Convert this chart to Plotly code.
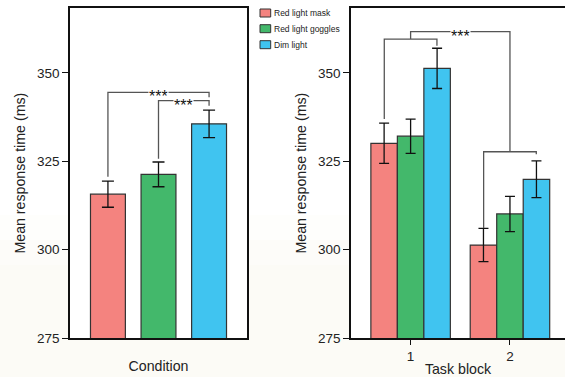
import plotly.graph_objects as go

# ---------------- data ----------------
conditions = ["Red light mask", "Red light goggles", "Dim light"]
colors = ["#F4837F", "#43B86B", "#40C4F0"]

cond_means = [315.7, 321.3, 335.6]
cond_err = [3.7, 3.5, 3.9]

blocks = [1, 2]
block_means = {
    "Red light mask": [330.1, 301.3],
    "Red light goggles": [332.1, 310.1],
    "Dim light": [351.3, 319.9],
}
block_err = {
    "Red light mask": [5.7, 4.7],
    "Red light goggles": [4.85, 5.0],
    "Dim light": [5.7, 5.2],
}
y_ticks = [275, 300, 325, 350]

W, H = 565, 377
def px(x):
    return x / W
def py(y):
    return 1 - y / H

fig = go.Figure()

# left panel
fig.add_trace(go.Bar(
    x=conditions, y=cond_means, width=0.69,
    marker=dict(color=colors, line=dict(color="#333333", width=1.2)),
    error_y=dict(type="data", array=cond_err, color="#111111", thickness=1.3, width=6),
    showlegend=False, xaxis="x", yaxis="y",
))

# right panel
for c, col in zip(conditions, colors):
    fig.add_trace(go.Bar(
        x=blocks, y=block_means[c], name=c,
        marker=dict(color=col, line=dict(color="#333333", width=1.2)),
        error_y=dict(type="data", array=block_err[c], color="#111111", thickness=1.3, width=5),
        showlegend=False, xaxis="x2", yaxis="y2",
    ))

font = "Liberation Sans, Arial, sans-serif"
yr = [275, 368.3]
ax_common = dict(showgrid=False, zeroline=False, linecolor="#111111", linewidth=1.5,
                 automargin=False,
                 tickfont=dict(family=font, size=13.5, color="#222222"),
                 title_font=dict(family=font, size=14.2, color="#222222"))

fig.update_layout(
    width=W, height=H, margin=dict(l=0, r=0, t=0, b=0),
    paper_bgcolor="white", plot_bgcolor="white",
    barmode="group", bargap=0.2, bargroupgap=0,
    xaxis=dict(domain=[px(70), px(247)], anchor="y", range=[-0.75, 2.75],
               showticklabels=False, ticks="", showline=True, mirror=True,
               title=dict(text="Condition", standoff=22), **ax_common),
    yaxis=dict(domain=[py(338), py(8.3)], anchor="x", range=yr, tickvals=y_ticks,
               ticks="outside", ticklen=6, tickwidth=1.3, tickcolor="#111111",
               showline=True, mirror=True,
               title=dict(text="Mean response time (ms)", standoff=8), **ax_common),
    xaxis2=dict(domain=[px(351), 1.0], anchor="y2", range=[0.4, 2.554],
                tickvals=blocks, ticks="outside", ticklen=5, tickwidth=1.3, tickcolor="#111111",
                showline=True, mirror=True,
                title=dict(text="Task block", standoff=1), **ax_common),
    yaxis2=dict(domain=[py(338), py(8.3)], anchor="x2", range=yr, tickvals=y_ticks,
                ticks="outside", ticklen=6, tickwidth=1.3, tickcolor="#111111",
                showline=True, mirror=False,
                title=dict(text="Mean response time (ms)", standoff=8), **ax_common),
)

shapes = []
# subtle cream background toward the bottom (outside plot areas)
for y0, y1, c in [(0, py(265), "#fcfbf6"), (py(265), py(240), "#fdfcf9"), (py(240), py(215), "#fefefc")]:
    shapes.append(dict(type="rect", xref="paper", yref="paper", x0=0, x1=1, y0=y0, y1=y1,
                       fillcolor=c, line=dict(width=0), layer="below"))
for x0, x1 in [(px(70), px(247)), (px(351), 1.0)]:
    shapes.append(dict(type="rect", xref="paper", yref="paper", x0=x0, x1=x1,
                       y0=py(338), y1=py(8.3), fillcolor="white", line=dict(width=0), layer="below"))

br = dict(color="#555555", width=1.3)
def path(xr, yr_, pts):
    d = "M" + " L".join(f"{x},{y}" for x, y in pts)
    return dict(type="path", xref=xr, yref=yr_, path=d, line=br)

# left panel brackets
shapes.append(path("x", "y", [(0, 320.6), (0, 344.5), (2, 344.5), (2, 343.1)]))
shapes.append(path("x", "y", [(1, 325.7), (1, 342.2), (2, 342.2), (2, 340.7)]))
# right panel brackets
shapes.append(path("x2", "y2", [(0.735, 337.0), (0.735, 359.6), (1.265, 359.6), (1.265, 357.7)]))
shapes.append(path("x2", "y2", [(1, 359.6), (1, 361.7), (2, 361.7), (2, 327.7)]))
shapes.append(path("x2", "y2", [(1.735, 306.1), (1.735, 327.7), (2.265, 327.7), (2.265, 327.0)]))

# legend squares
leg_y = [13.0, 28.7, 44.7]
for c, yy in zip(colors, leg_y):
    shapes.append(dict(type="rect", xref="paper", yref="paper", x0=px(260), x1=px(270.7),
                       y0=py(yy + 4), y1=py(yy - 4), fillcolor=c,
                       line=dict(color="#333333", width=1)))

ann = []
star = dict(family=font, size=16, color="#111111")
for xx, yy, xr, yr_ in [(1, 344.5, "x", "y"), (1.5, 342.2, "x", "y"), (1.5, 361.7, "x2", "y2")]:
    ann.append(dict(x=xx, y=yy, xref=xr, yref=yr_, text="***", showarrow=False, font=star,
                    bgcolor="white", borderpad=0, height=8, valign="top", yshift=0))
for name, yy in zip(conditions, leg_y):
    ann.append(dict(x=px(272), y=py(yy), xref="paper", yref="paper", text=name,
                    showarrow=False, xanchor="left", yanchor="middle",
                    font=dict(family=font, size=8.5, color="#222222")))

fig.update_layout(shapes=shapes, annotations=ann)
fig.write_html("out.html", config=dict(displayModeBar=False),
               post_script="document.body.style.margin='0';")
